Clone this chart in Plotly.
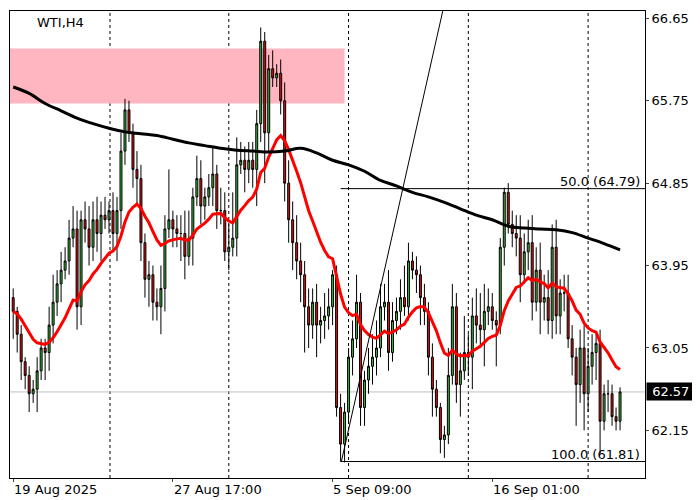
import plotly.graph_objects as go
import pandas as pd

closes = [63.45,63.2,62.9,62.75,62.55,62.6,62.8,63.05,63.0,63.3,
63.55,63.75,63.9,64.0,64.25,64.35,63.5,64.45,64.35,64.15,
64.45,64.3,64.5,64.45,64.55,64.3,64.55,65.2,65.65,65.4,
65.0,64.9,64.2,63.8,63.85,63.55,63.5,63.7,64.35,64.45,
64.35,64.3,64.3,64.05,64.25,64.7,64.9,64.6,64.7,64.8,
64.95,64.55,64.55,64.1,64.15,64.25,65.05,65.1,65.0,65.1,
65.0,65.5,66.4,65.4,66.1,66.0,66.05,65.75,64.85,64.45,
64.2,64.0,63.85,63.5,63.3,63.55,63.3,63.35,63.4,63.5,
63.85,62.4,62.0,62.35,62.95,63.15,63.55,62.4,62.7,62.85,
62.95,63.05,63.5,63.55,63.0,63.35,63.45,63.6,63.5,64.0,
63.9,63.85,63.6,63.45,62.95,62.6,62.4,62.05,62.1,62.75,
63.5,62.65,62.8,63.0,62.95,63.4,63.3,63.25,63.45,63.5,
63.35,63.3,64.15,64.75,64.4,64.3,64.25,63.85,64.1,64.2,
63.55,63.9,63.55,63.6,63.35,64.15,63.4,63.65,63.65,63.15,
62.95,62.65,63.05,62.55,62.85,63.0,63.1,62.25,62.55,62.55,
62.3,62.25,62.57]
first_open = 63.6
wick_up = [0.1,0.05,0.1,0.05,0.1,0.1,0.15,0.1,0.1,0.2,
0.3,0.15,0.2,0.15,0.2,0.25,0.2,0.1,0.2,0.25,
0.2,0.25,0.15,0.2,0.1,0.2,0.15,0.2,0.12,0.1,
0.1,0.2,0.15,0.1,0.15,0.1,0.15,0.25,0.15,0.55,
0.1,0.15,0.2,0.25,0.3,0.1,0.25,0.2,0.1,0.15,
0.3,0.1,0.25,0.2,0.25,0.5,0.3,0.2,0.15,0.2,
0.2,0.15,0.15,0.1,0.15,0.2,0.1,0.15,0.2,0.25,
0.2,0.3,0.2,0.15,0.2,0.15,0.2,0.15,0.25,0.2,
0.05,0.1,0.15,0.1,0.1,0.2,0.3,0.1,0.1,0.2,
0.25,0.3,0.25,0.2,0.35,0.2,0.15,0.2,0.35,0.2,
0.1,0.15,0.1,0.15,0.1,0.15,0.1,0.05,0.1,0.3,
0.25,0.15,0.2,0.4,0.2,0.2,0.3,0.35,0.3,0.2,
0.15,0.1,0.1,0.05,0.1,0.15,0.2,0.25,0.2,0.25,
0.3,0.25,0.3,0.25,0.3,0.25,0.3,0.15,0.2,0.2,
0.15,0.1,0.2,0.25,0.2,0.2,0.1,0.15,0.1,0.15,
0.1,0.1,0.05]
wick_dn = [0.3,0.2,0.2,0.15,0.2,0.1,0.25,0.1,0.3,0.2,
0.2,0.15,0.2,0.1,0.15,0.1,0.25,0.2,0.15,0.2,
0.15,0.2,0.3,0.1,0.15,0.2,0.3,0.2,0.15,0.1,
0.2,0.3,0.2,0.2,0.3,0.2,0.15,0.3,0.25,0.1,
0.2,0.15,0.3,0.25,0.1,0.3,0.1,0.2,0.15,0.1,
0.2,0.2,0.15,0.1,0.2,0.1,0.2,0.1,0.25,0.15,
0.2,0.4,0.2,0.55,0.2,0.1,0.1,0.15,0.2,0.25,
0.3,0.2,0.3,0.5,0.25,0.15,0.35,0.2,0.2,0.15,
0.2,0.1,0.19,0.2,0.1,0.2,0.1,0.2,0.2,0.15,
0.2,0.2,0.1,0.15,0.2,0.1,0.15,0.2,0.1,0.15,
0.1,0.2,0.3,0.15,0.2,0.3,0.1,0.15,0.2,0.1,
0.1,0.2,0.35,0.1,0.2,0.35,0.2,0.2,0.4,0.15,
0.1,0.45,0.1,0.2,0.1,0.15,0.2,0.3,0.1,0.2,
0.2,0.1,0.35,0.2,0.15,0.2,0.2,0.2,0.2,0.1,
0.2,0.45,0.2,0.4,0.2,0.2,0.3,0.35,0.1,0.2,
0.1,0.1,0.1]
slow_ma = [65.9,65.83,65.72,65.64,65.56,65.5,65.45,65.41,65.39,65.37,
65.33,65.29,65.26,65.23,65.21,65.2,65.19,65.2,65.23,65.18,
65.1,65.05,64.98,64.88,64.82,64.75,64.7,64.64,64.57,64.5,
64.45,64.38,64.36,64.35,64.34,64.31,64.25,64.19,64.12]
fib_50 = 64.79
fib_100 = 61.81
last_price = 62.57
zone = (65.72, 66.32)
y_ticks = [66.65, 65.75, 64.85, 63.95, 63.05, 62.15]
x_labels = {0: "19 Aug 2025", 40: "27 Aug 17:00", 80: "5 Sep 09:00", 120: "16 Sep 01:00"}
week_lines = [24.25, 54, 84, 114, 144]

n = len(closes)
idx = list(range(n))
opens = [first_open] + closes[:-1]
highs = [max(o, c) + w for o, c, w in zip(opens, closes, wick_up)]
lows = [min(o, c) - w for o, c, w in zip(opens, closes, wick_dn)]
fast_ma = pd.Series(closes).ewm(span=17, adjust=False).mean().tolist()
slow_x = [i * 4 for i in range(len(slow_ma))][:-1] + [n - 1]

fig = go.Figure()
fig.add_shape(type="rect", x0=-0.8, x1=83, y0=zone[0], y1=zone[1],
              fillcolor="#ffb6c1", line_width=0, layer="below")
for w in week_lines:
    fig.add_shape(type="line", x0=w, x1=w, y0=0, y1=1, yref="paper",
                  line=dict(color="black", width=1, dash="dot"), layer="below")
fig.add_hline(y=last_price, line=dict(color="#c0c0c0", width=1), layer="below")
fig.add_trace(go.Candlestick(x=idx, open=opens, high=highs, low=lows, close=closes,
    increasing=dict(line=dict(color="black", width=1), fillcolor="#3cb43c"),
    decreasing=dict(line=dict(color="black", width=1), fillcolor="#e01010"),
    whiskerwidth=0, showlegend=False))
fig.add_trace(go.Scatter(x=idx, y=fast_ma, mode="lines", line=dict(color="#ff0000", width=3),
                         showlegend=False, hoverinfo="skip"))
fig.add_trace(go.Scatter(x=slow_x, y=slow_ma, mode="lines",
                         line=dict(color="black", width=3, shape="spline"),
                         showlegend=False, hoverinfo="skip"))
fig.add_trace(go.Scatter(x=[82.2, 107.75], y=[fib_100, 66.76], mode="lines",
                         line=dict(color="black", width=1), showlegend=False, hoverinfo="skip"))
for lvl, txt in [(fib_50, "50.0 (64.79)"), (fib_100, "100.0 (61.81)")]:
    fig.add_shape(type="line", x0=82, x1=158.25, y0=lvl, y1=lvl, line=dict(color="black", width=1))
    fig.add_annotation(x=157.5, y=lvl, text=txt, showarrow=False, xanchor="right", yanchor="bottom",
                       font=dict(family="DejaVu Sans", size=13, color="black"), yshift=-2)
fig.add_annotation(x=1.0, y=last_price, xref="paper", text=" 62.57 ", showarrow=False,
                   xanchor="left", bgcolor="black", font=dict(family="DejaVu Sans", size=13, color="white"),
                   xshift=1)
fig.add_annotation(x=0.04, y=0.995, xref="paper", yref="paper", text="WTI,H4", showarrow=False,
                   xanchor="left", yanchor="top", font=dict(family="DejaVu Sans", size=13, color="black"))
for k, t in x_labels.items():
    fig.add_annotation(x=k - 0.3, y=0, yref="paper", text=t, showarrow=False, xanchor="left",
                       yanchor="top", yshift=-2, font=dict(family="DejaVu Sans", size=13, color="black"))

fig.update_layout(width=700, height=500, margin=dict(l=2, r=63, t=3, b=30, autoexpand=False),
                  plot_bgcolor="white", paper_bgcolor="white",
                  xaxis=dict(range=[-0.8, 158.25], showgrid=False, rangeslider_visible=False,
                             showticklabels=False, tickvals=list(x_labels.keys()), ticks="outside",
                             ticklen=3, linecolor="black", mirror=True, showline=True, zeroline=False,
                             automargin=False),
                  yaxis=dict(range=[61.63, 66.73], side="right", tickvals=y_ticks,
                             ticktext=[f"{v:.2f}" for v in y_ticks], showgrid=False, ticks="outside",
                             ticklen=3, linecolor="black", mirror=True, showline=True, zeroline=False,
                             automargin=False,
                             tickfont=dict(family="DejaVu Sans", size=13, color="black")))
fig.write_html("out.html")
